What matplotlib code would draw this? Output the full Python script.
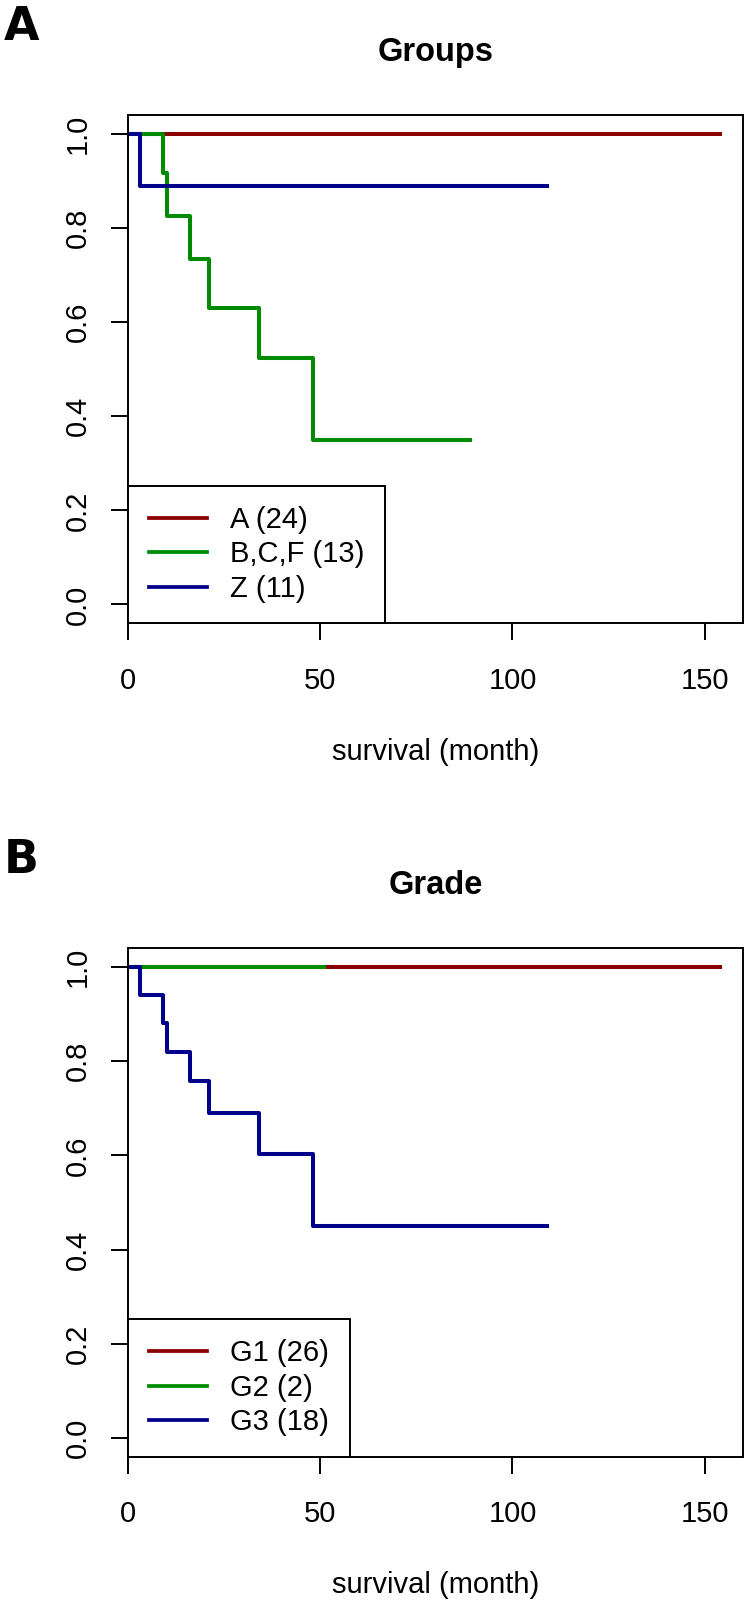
import matplotlib
matplotlib.use('Agg')
import matplotlib.pyplot as plt

plt.rcParams['font.family'] = ['Liberation Sans', 'DejaVu Sans']

# panel A: groups (time in months, KM survival)
a_time = [0, 154]
a_surv = [1.0, 1.0]
bcf_time = [0, 9, 10, 16, 21, 34, 48, 89]
bcf_surv = [1.0, 0.917, 0.825, 0.733, 0.629, 0.524, 0.349, 0.349]
z_time = [0, 3, 109]
z_surv = [1.0, 0.889, 0.889]
groups_labels = ['A (24)', 'B,C,F (13)', 'Z (11)']

# panel B: grade
g1_time = [0, 154]
g1_surv = [1.0, 1.0]
g2_time = [0, 51]
g2_surv = [1.0, 1.0]
g3_time = [0, 3, 9, 10, 16, 21, 34, 48, 109]
g3_surv = [1.0, 0.941, 0.882, 0.820, 0.758, 0.689, 0.602, 0.451, 0.451]
grade_labels = ['G1 (26)', 'G2 (2)', 'G3 (18)']

colors = ['#8B0000', '#008B00', '#00008B']
xticks = [0, 50, 100, 150]
yticks = [0.0, 0.2, 0.4, 0.6, 0.8, 1.0]

W, H = 748, 1600
fig = plt.figure(figsize=(W / 100, H / 100), dpi=100)

FS = 21


def km_panel(top_px, title, letter, curves, labels):
    left, right, bottom_px = 128.3, 743.0, top_px + 508.3
    ax = fig.add_axes([left / W, 1 - bottom_px / H, (right - left) / W, (bottom_px - top_px) / H])
    for (t, s), c, lab in zip(curves, colors, labels):
        ax.step(t, s, where='post', color=c, lw=2.9, label=lab)
    ax.set_xlim(0, 160)
    ax.set_ylim(-0.04, 1.04)
    ax.set_xticks(xticks)
    ax.set_yticks(yticks)
    ax.set_yticklabels(['%.1f' % v for v in yticks], rotation=90, va='center')
    ax.tick_params(length=12.5, width=1.4, labelsize=FS)
    ax.tick_params(axis='x', pad=19)
    ax.tick_params(axis='y', pad=14)
    for sp in ax.spines.values():
        sp.set_linewidth(1.4)
    ax.set_xlabel('survival (month)', fontsize=FS, va='center')
    ax.xaxis.set_label_coords(0.5, -0.253)
    leg = ax.legend(loc='lower left', bbox_to_anchor=(0, 0), borderaxespad=0,
                    fancybox=False, edgecolor='black', framealpha=1,
                    fontsize=FS, handlelength=2.0, handletextpad=0.8,
                    borderpad=0.7, labelspacing=0.22)
    leg.get_frame().set_linewidth(1.4)
    for ln in leg.get_lines():
        ln.set_linewidth(2.7)
    fig.text((left + right) / 2 / W, 1 - (top_px - 63) / H, title, ha='center', va='center',
             fontsize=23.5, fontweight='bold')
    fig.text(4 / W, 1 - (top_px - 110) / H, letter, ha='left', va='top',
             fontsize=33, fontweight='bold', family='DejaVu Sans')
    return ax


km_panel(115.0, 'Groups', 'A',
         [(a_time, a_surv), (bcf_time, bcf_surv), (z_time, z_surv)], groups_labels)
km_panel(948.3, 'Grade', 'B',
         [(g1_time, g1_surv), (g2_time, g2_surv), (g3_time, g3_surv)], grade_labels)

fig.savefig('out.png', dpi=100)
